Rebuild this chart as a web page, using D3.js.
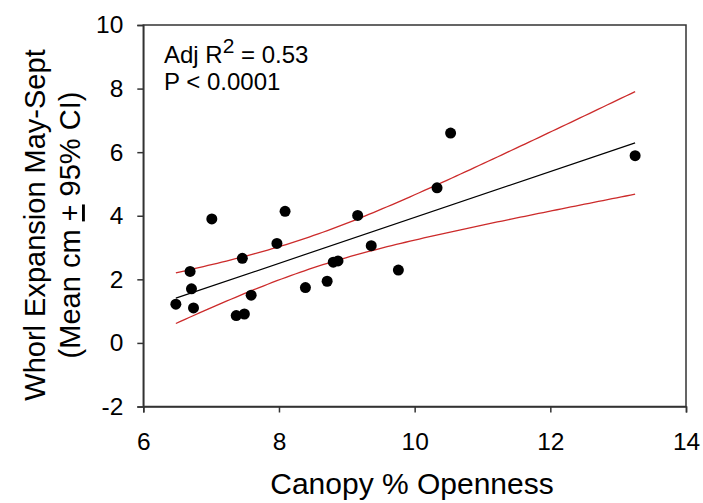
<!DOCTYPE html>
<html>
<head>
<meta charset="utf-8">
<script src="https://cdn.jsdelivr.net/npm/d3@7"></script>
<style>
  html, body { margin: 0; padding: 0; background: #fff; }
  svg { display: block; font-family: "Liberation Sans", Arial, sans-serif; }
</style>
</head>
<body>
<svg id="chart" width="703" height="503"></svg>
<script>
// Canopy openness (%) for each plot
const openness = [6.48, 6.69, 6.71, 6.74, 7.01, 7.37, 7.49, 7.46, 7.59, 7.97, 8.09,
                  8.39, 8.71, 8.80, 8.87, 9.16, 9.36, 9.76, 10.33, 10.53, 13.25];
// Mean whorl expansion May–Sept (cm)
const whorl = [1.22, 2.25, 1.70, 1.10, 3.90, 0.86, 0.91, 2.66, 1.50, 3.13, 4.14,
               1.74, 1.94, 2.54, 2.58, 4.01, 3.06, 2.29, 4.88, 6.60, 5.89];

const xTicks = [6, 8, 10, 12, 14];
const yTicks = [-2, 0, 2, 4, 6, 8, 10];
const statLines = ["Adj R", "P < 0.0001"];

const svg = d3.select("#chart");
const plotLeft = 143.3, plotRight = 686, plotTop = 25, plotBottom = 406.5;

const x = d3.scaleLinear().domain([6, 14]).range([plotLeft, plotRight]);
const y = d3.scaleLinear().domain([-2, 10]).range([plotBottom, plotTop]);

// Least-squares fit with 95% confidence band for the mean
const n = openness.length;
const mx = d3.mean(openness), my = d3.mean(whorl);
let sxx = 0, sxy = 0, syy = 0;
for (let i = 0; i < n; i++) {
  const dx = openness[i] - mx, dy = whorl[i] - my;
  sxx += dx * dx; sxy += dx * dy; syy += dy * dy;
}
const slope = sxy / sxx;
const intercept = my - slope * mx;
const sse = syy - sxy * sxy / sxx;
const sRes = Math.sqrt(sse / (n - 2));
const tCrit = 2.093; // t(0.975, df = 19)
const fit = v => intercept + slope * v;
const halfWidth = v => tCrit * sRes * Math.sqrt(1 / n + (v - mx) * (v - mx) / sxx);

const [xMin, xMax] = d3.extent(openness);
const grid = d3.range(0, 101).map(i => xMin + (xMax - xMin) * i / 100);

const line = d3.line().x(d => x(d[0])).y(d => y(d[1]));

// Confidence band limits
svg.append("path")
  .datum(grid.map(v => [v, fit(v) + halfWidth(v)]))
  .attr("d", line).attr("fill", "none").attr("stroke", "#cc2b2b").attr("stroke-width", 1.3);
svg.append("path")
  .datum(grid.map(v => [v, fit(v) - halfWidth(v)]))
  .attr("d", line).attr("fill", "none").attr("stroke", "#cc2b2b").attr("stroke-width", 1.3);

// Regression line
svg.append("path")
  .datum([[xMin, fit(xMin)], [xMax, fit(xMax)]])
  .attr("d", line).attr("fill", "none").attr("stroke", "#000").attr("stroke-width", 1.2);

// Observations
svg.append("g").selectAll("circle")
  .data(openness.map((v, i) => [v, whorl[i]]))
  .join("circle")
  .attr("cx", d => x(d[0])).attr("cy", d => y(d[1]))
  .attr("r", 5.5).attr("fill", "#000");

// Frame
svg.append("rect")
  .attr("x", plotLeft).attr("y", plotTop)
  .attr("width", plotRight - plotLeft).attr("height", plotBottom - plotTop)
  .attr("fill", "none").attr("stroke", "#333").attr("stroke-width", 1.5);

// Axes
const xAxis = svg.append("g")
  .attr("transform", `translate(0,${plotBottom})`)
  .call(d3.axisBottom(x).tickValues(xTicks).tickSize(6).tickPadding(20).tickFormat(d3.format("d")));
const yAxis = svg.append("g")
  .attr("transform", `translate(${plotLeft},0)`)
  .call(d3.axisLeft(y).tickValues(yTicks).tickSize(6).tickPadding(14).tickFormat(d => d < 0 ? "-" + Math.abs(d) : d));

[xAxis, yAxis].forEach(g => {
  g.select(".domain").attr("stroke", "#333").attr("stroke-width", 1.5);
  g.selectAll(".tick line").attr("stroke", "#333").attr("stroke-width", 1.5);
  g.selectAll(".tick text").attr("fill", "#000").attr("font-size", 24.5)
    .attr("font-family", "Liberation Sans, Arial, sans-serif");
});

// Axis titles
svg.append("text")
  .attr("x", 412).attr("y", 494)
  .attr("text-anchor", "middle").attr("font-size", 30).attr("fill", "#000")
  .text("Canopy % Openness");

const yTitle = svg.append("text")
  .attr("transform", "translate(45,225) rotate(-90)")
  .attr("text-anchor", "middle").attr("font-size", 29).attr("fill", "#000");
yTitle.append("tspan").attr("x", 0).attr("y", 0).text("Whorl Expansion May-Sept");
const l2 = yTitle.append("tspan").attr("x", 0).attr("dy", 35);
l2.append("tspan").text("(Mean cm ");
l2.append("tspan").attr("text-decoration", "underline").text("+");
l2.append("tspan").text(" 95% CI)");

// Fit statistics
const stats = svg.append("text").attr("font-size", 24).attr("fill", "#000");
const s1 = stats.append("tspan").attr("x", 164).attr("y", 63);
s1.append("tspan").text(statLines[0]);
s1.append("tspan").attr("dy", -10).attr("font-size", 21).text("2");
s1.append("tspan").attr("dy", 10).text(" = 0.53");
stats.append("tspan").attr("x", 164).attr("y", 90).text(statLines[1]);
</script>
</body>
</html>
